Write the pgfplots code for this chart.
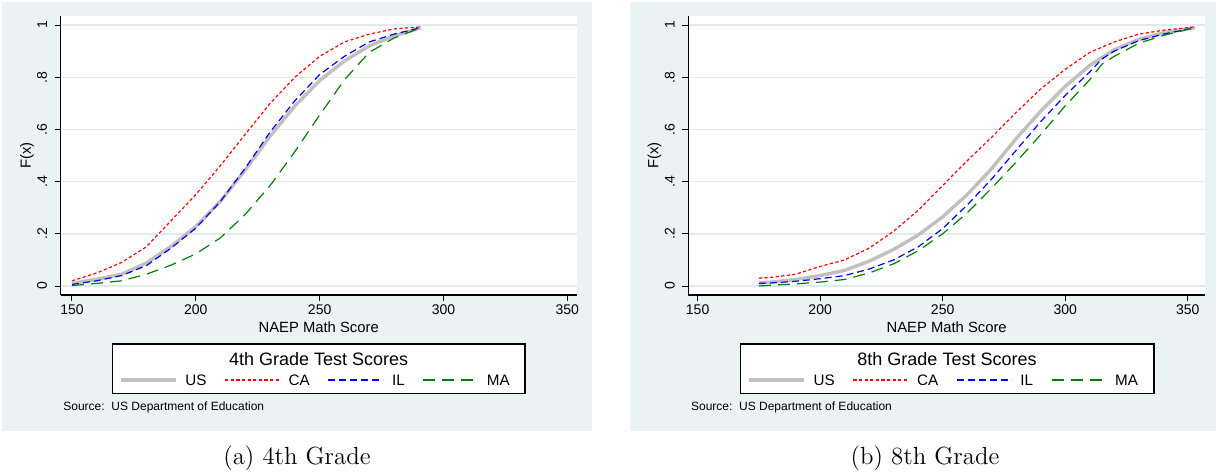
\documentclass[border=0pt]{standalone}
\usepackage{fontspec}
\newfontfamily\arial{Liberation Sans}
\usepackage{pgfplots}
\pgfplotsset{compat=1.18}
\definecolor{bgc}{RGB}{234,242,243}
\definecolor{gridc}{RGB}{224,234,237}
\definecolor{usgray}{RGB}{192,192,192}
\definecolor{magreen}{RGB}{0,128,0}
\pgfplotsset{
  common/.style={
    scale only axis, anchor=south west, height=139.5pt,
    ymin=-0.0345, ymax=1.0345,
    axis lines=left, axis line style={-, black, line width=0.6pt},
    axis background/.style={fill=white},
    ytick={0,0.2,0.4,0.6,0.8,1}, yticklabels={0,.2,.4,.6,.8,1},
    xtick={150,200,250,300,350},
    tick align=outside, major tick length=3pt,
    tick style={black, line width=0.5pt},
    /pgf/number format/assume math mode=true,
    tick label style={font=\arial\fontsize{7}{8}\selectfont},
    yticklabel style={rotate=90, anchor=south},
    yticklabel shift=0.3pt, xticklabel shift=-1.5pt,
    ymajorgrids, major grid style={draw=gridc, line width=0.7pt},
    xlabel={NAEP Math Score}, ylabel={F(x)},
    xlabel style={at={(axis description cs:0.5,-0.1147)}, anchor=center, font=\arial\fontsize{7.4}{8}\selectfont},
    ylabel style={at={(axis description cs:-0.0653,0.5)}, anchor=center, font=\arial\fontsize{7.4}{8}\selectfont},
    legend columns=4, legend cell align=left,
    legend image code/.code={\draw[##1] (0pt,0pt) -- (27.5pt,0pt);},
    legend style={anchor=west, draw=none, fill=none, inner sep=0pt, outer sep=0pt,
      font=\arial\fontsize{7.6}{8}\selectfont,
      nodes={inner sep=0pt, text depth=0pt},
      column sep=4pt},
  },
  usl/.style={usgray, line width=1.7pt},
  cal/.style={red, line width=0.6pt, dash pattern=on 1.6pt off 1.2pt},
  ill/.style={blue, line width=0.6pt, dash pattern=on 3.5pt off 2pt},
  mal/.style={magreen, line width=0.6pt, dash pattern=on 6pt off 3.5pt},
}
\newcommand{\lgap}{\hspace*{5pt}}
\pgfplotstableread{
x    us    ca    il    ma
150  0.010 0.020 0.006 0.002
160  0.026 0.050 0.020 0.010
170  0.045 0.090 0.040 0.020
180  0.088 0.150 0.078 0.045
190  0.152 0.250 0.145 0.080
200  0.228 0.350 0.222 0.123
210  0.325 0.462 0.325 0.185
220  0.445 0.582 0.452 0.275
230  0.574 0.700 0.590 0.385
240  0.690 0.800 0.710 0.515
250  0.787 0.880 0.810 0.655
260  0.862 0.935 0.880 0.790
270  0.920 0.965 0.935 0.895
280  0.958 0.985 0.965 0.950
291  0.990 0.993 0.990 0.990
}\gradefour
\pgfplotstableread{
x    us    ca    il    ma
175  0.012 0.030 0.010 0.000
180  0.015 0.033 0.012 0.003
190  0.025 0.045 0.018 0.008
200  0.040 0.075 0.028 0.015
210  0.060 0.100 0.040 0.025
220  0.095 0.145 0.065 0.050
230  0.140 0.210 0.100 0.085
240  0.195 0.290 0.150 0.135
250  0.265 0.385 0.220 0.200
260  0.350 0.480 0.310 0.280
270  0.450 0.570 0.410 0.375
280  0.565 0.665 0.520 0.475
290  0.670 0.755 0.630 0.580
300  0.765 0.830 0.730 0.690
310  0.845 0.895 0.820 0.790
315  0.875 0.915 0.870 0.850
320  0.905 0.935 0.900 0.880
330  0.945 0.965 0.940 0.930
340  0.970 0.980 0.965 0.960
353  0.990 0.993 0.990 0.990
}\gradeeight
\begin{document}
\begin{tikzpicture}
\useasboundingbox (0,0) rectangle (609pt,-236pt);
\fill[bgc] (1pt,-1pt) rectangle (296pt,-215.35pt);
\fill[bgc] (315pt,-1pt) rectangle (608pt,-215.35pt);
% legend boxes
\draw[black, line width=0.6pt, fill=white] (56.15pt,-172pt) rectangle (262.5pt,-196.65pt);
\draw[black, line width=0.6pt, fill=white] (370.4pt,-172pt) rectangle (577pt,-196.65pt);
\node[anchor=base, inner sep=0pt, font=\arial\fontsize{9}{10}\selectfont] at (159.35pt,-182.5pt) {4th Grade Test Scores};
\node[anchor=base, inner sep=0pt, font=\arial\fontsize{9}{10}\selectfont] at (473.5pt,-182.5pt) {8th Grade Test Scores};
\node[anchor=base west, inner sep=0pt, font=\arial\fontsize{6}{7}\selectfont] at (31.5pt,-205pt) {Source:\ \ US Department of Education};
\node[anchor=base west, inner sep=0pt, font=\arial\fontsize{6}{7}\selectfont] at (345.35pt,-205pt) {Source:\ \ US Department of Education};
\node[anchor=base, inner sep=0pt, font=\fontsize{12.4}{14}\selectfont] at (148.5pt,-232pt) {(a) 4th Grade};
\node[anchor=base, inner sep=0pt, font=\fontsize{12.4}{14}\selectfont] at (462.5pt,-232pt) {(b) 8th Grade};

\begin{axis}[common, at={(30.35pt,-147.5pt)}, width=258pt,
  xmin=145.44, xmax=353.8,
  legend style={at={(0.113,-0.3047)}}]
\addplot[usl] table[x=x, y=us] {\gradefour};
\addplot[cal] table[x=x, y=ca] {\gradefour};
\addplot[ill] table[x=x, y=il] {\gradefour};
\addplot[mal] table[x=x, y=ma] {\gradefour};
\legend{US\lgap, CA\lgap, IL\lgap, MA}
\end{axis}

\begin{axis}[common, at={(344.15pt,-147.5pt)}, width=258.35pt,
  xmin=146.2, xmax=357.06,
  legend style={at={(0.1142,-0.3047)}}]
\addplot[usl] table[x=x, y=us] {\gradeeight};
\addplot[cal] table[x=x, y=ca] {\gradeeight};
\addplot[ill] table[x=x, y=il] {\gradeeight};
\addplot[mal] table[x=x, y=ma] {\gradeeight};
\legend{US\lgap, CA\lgap, IL\lgap, MA}
\end{axis}
\end{tikzpicture}
\end{document}
